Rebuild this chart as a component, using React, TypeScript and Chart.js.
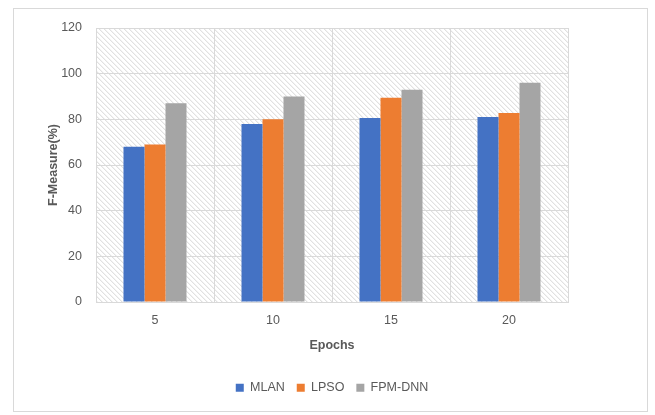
import React, { useEffect, useRef } from "react";
import { Chart, registerables } from "chart.js";

Chart.register(...registerables);

const categories = ["5", "10", "15", "20"];
const mlan = [68, 78, 80.6, 81];
const lpso = [69, 80, 89.4, 82.8];
const fpmDnn = [87, 90, 93, 96];
const yTicksMax = 120;
const yStep = 20;

const FONT = "'Liberation Sans', Arial, sans-serif";
const TEXT = "#595959";
const GRID = "#d9d9d9";

function makeHatch(): CanvasPattern | string {
  const tile = document.createElement("canvas");
  tile.width = 5;
  tile.height = 5;
  const c = tile.getContext("2d");
  if (!c) return "#ffffff";
  c.fillStyle = "#ffffff";
  c.fillRect(0, 0, 5, 5);
  c.fillStyle = "#e1e1e1";
  for (let i = 0; i < 5; i++) c.fillRect(i, i, 1, 1);
  c.fillStyle = "#f3f3f3";
  for (let i = 0; i < 5; i++) c.fillRect((i + 1) % 5, i, 1, 1);
  const ctx = document.createElement("canvas").getContext("2d");
  return ctx ? ctx.createPattern(tile, "repeat") || "#ffffff" : "#ffffff";
}

const backgroundPlugin = {
  id: "bgHatch",
  beforeDraw(chart: any) {
    const { ctx, chartArea } = chart;
    ctx.save();
    ctx.fillStyle = "#ffffff";
    ctx.fillRect(0, 0, chart.width, chart.height);
    ctx.strokeStyle = GRID;
    ctx.lineWidth = 1;
    ctx.strokeRect(13.5, 8.5, 634, 403);
    const pat = makeHatch();
    ctx.fillStyle = pat as any;
    ctx.fillRect(chartArea.left, chartArea.top, chartArea.right - chartArea.left, chartArea.bottom - chartArea.top);
    ctx.restore();
  },
};

export default function App() {
  const ref = useRef<HTMLCanvasElement | null>(null);

  useEffect(() => {
    if (!ref.current) return;
    const chart = new Chart(ref.current, {
      type: "bar",
      data: {
        labels: categories,
        datasets: [
          { label: "MLAN", data: mlan, backgroundColor: "#4472C4" },
          { label: "LPSO", data: lpso, backgroundColor: "#ED7D31" },
          { label: "FPM-DNN", data: fpmDnn, backgroundColor: "#A5A5A5" },
        ],
      },
      options: {
        animation: false,
        responsive: false,
        devicePixelRatio: 1,
        datasets: { bar: { categoryPercentage: 0.534, barPercentage: 1 } },
        layout: { padding: { left: 9, right: 0, top: 28, bottom: 11 } },
        plugins: {
          tooltip: { enabled: false },
          legend: {
            position: "bottom",
            labels: {
              boxWidth: 8,
              boxHeight: 8,
              padding: 12,
              color: TEXT,
              font: { family: FONT, size: 12.5 },
            },
          },
        },
        scales: {
          x: {
            grid: { color: GRID, drawTicks: false, offset: true },
            border: { color: GRID },
            ticks: { color: TEXT, padding: 11, font: { family: FONT, size: 12.5 } },
            title: {
              display: true,
              text: "Epochs",
              color: TEXT,
              font: { family: FONT, size: 12.5, weight: "bold" },
              padding: { top: 0, bottom: 16.3 },
            },
            afterFit: (s: any) => {
              s.height = 67.5;
            },
          },
          y: {
            min: 0,
            max: yTicksMax,
            ticks: { stepSize: yStep, color: TEXT, padding: 14, font: { family: FONT, size: 12.5 } },
            grid: { color: GRID, drawTicks: false },
            border: { color: GRID },
            title: {
              display: true,
              text: "F-Measure(%)",
              color: TEXT,
              font: { family: FONT, size: 12.5, weight: "bold" },
              padding: { top: 37, bottom: 0 },
            },
            afterFit: (s: any) => {
              s.width = 87;
            },
          },
          y2: {
            type: "linear",
            position: "right",
            display: true,
            grid: { display: false },
            ticks: { display: false },
            border: { display: false },
            afterFit: (s: any) => {
              s.width = 87;
            },
          },
        },
      },
      plugins: [backgroundPlugin],
    } as any);
    return () => chart.destroy();
  }, []);

  return (
    <div style={{ position: "fixed", left: 0, top: 0, width: 655, height: 415, background: "#fff" }}>
      <canvas ref={ref} width={655} height={415} style={{ display: "block", width: 655, height: 415 }} />
    </div>
  );
}
